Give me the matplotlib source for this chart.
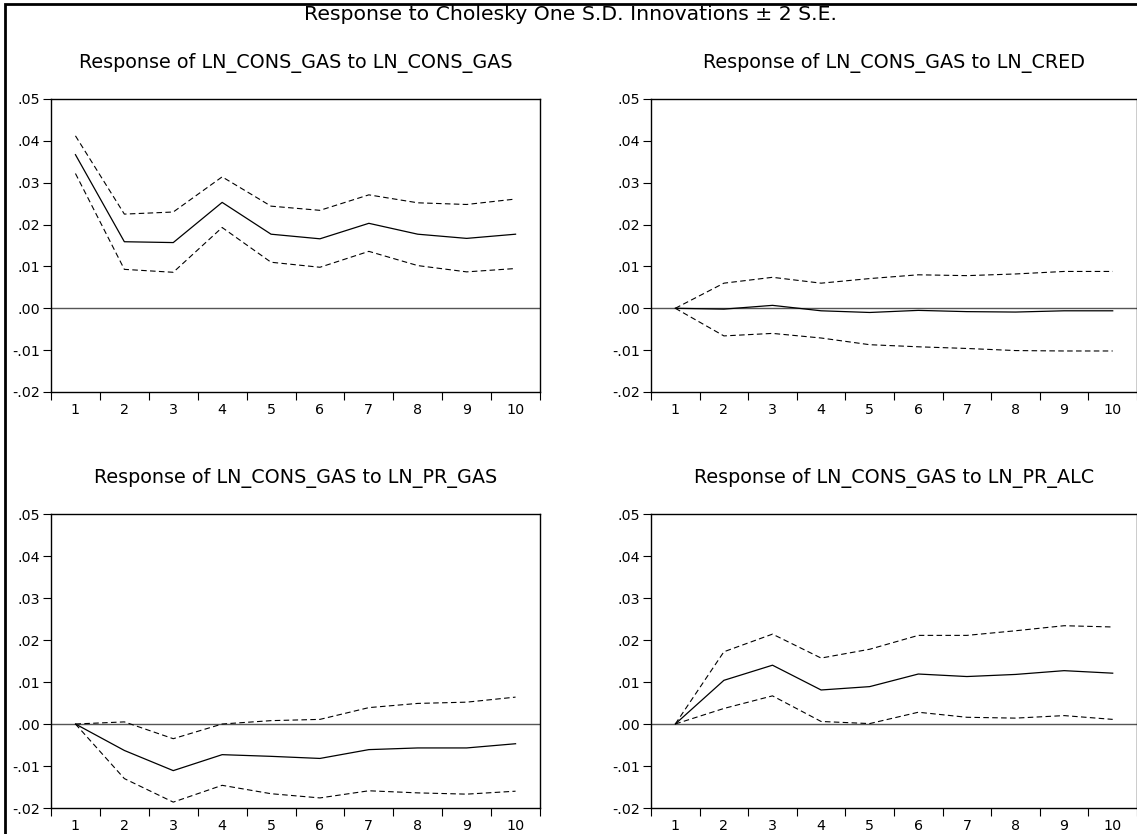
import matplotlib
matplotlib.use("Agg")
import matplotlib.pyplot as plt
from matplotlib.patches import Rectangle
from matplotlib.ticker import FuncFormatter, FixedLocator
import numpy as np

plt.rcParams['font.family'] = ['DejaVu Sans']

periods = [1, 2, 3, 4, 5, 6, 7, 8, 9, 10]

titles = [
    "Response of LN_CONS_GAS to LN_CONS_GAS",
    "Response of LN_CONS_GAS to LN_CRED",
    "Response of LN_CONS_GAS to LN_PR_GAS",
    "Response of LN_CONS_GAS to LN_PR_ALC",
]

# impulse response and +/- 2 S.E. bands
resp_gas = [0.0367, 0.0159, 0.0157, 0.0253, 0.0177, 0.0166, 0.0203, 0.0177, 0.0167, 0.0177]
upper_gas = [0.0412, 0.0225, 0.0230, 0.0314, 0.0244, 0.0234, 0.0271, 0.0252, 0.0248, 0.0261]
lower_gas = [0.0322, 0.0093, 0.0086, 0.0193, 0.0110, 0.0098, 0.0136, 0.0102, 0.0087, 0.0095]

resp_cred = [0.0, -0.0002, 0.0007, -0.0006, -0.0010, -0.0005, -0.0008, -0.0009, -0.0006, -0.0006]
upper_cred = [0.0, 0.0060, 0.0074, 0.0060, 0.0071, 0.0080, 0.0078, 0.0082, 0.0088, 0.0088]
lower_cred = [0.0, -0.0066, -0.0060, -0.0071, -0.0087, -0.0092, -0.0096, -0.0101, -0.0102, -0.0102]

resp_prgas = [0.0, -0.0063, -0.0111, -0.0073, -0.0077, -0.0082, -0.0061, -0.0057, -0.0057, -0.0047]
upper_prgas = [0.0, 0.0005, -0.0035, 0.0000, 0.0008, 0.0011, 0.0039, 0.0049, 0.0052, 0.0064]
lower_prgas = [0.0, -0.0130, -0.0186, -0.0146, -0.0166, -0.0176, -0.0159, -0.0164, -0.0167, -0.0160]

resp_alc = [0.0, 0.0104, 0.0140, 0.0081, 0.0089, 0.0119, 0.0113, 0.0118, 0.0127, 0.0121]
upper_alc = [0.0, 0.0172, 0.0214, 0.0157, 0.0178, 0.0211, 0.0211, 0.0222, 0.0234, 0.0231]
lower_alc = [0.0, 0.0037, 0.0067, 0.0006, 0.0001, 0.0028, 0.0016, 0.0014, 0.0020, 0.0011]

yticks = [-0.02, -0.01, 0.00, 0.01, 0.02, 0.03, 0.04, 0.05]

W, H = 1137, 834
fig = plt.figure(figsize=(W / 100, H / 100), dpi=100)

# outer frame (right and bottom edges fall outside the picture)
fig.patches.append(Rectangle((5 / W, -0.1), 1.2, 1 - 4 / H + 0.1, transform=fig.transFigure,
                             fill=False, edgecolor='black', linewidth=2))

fig.text(570 / W, 1 - 15 / H, "Response to Cholesky One S.D. Innovations \u00b1 2 S.E.",
         ha='center', va='center', fontsize=14.7)

# axes boxes in pixels: left, right, top, bottom
boxes = [(51, 540, 99, 392), (651, 1137, 99, 392),
         (51, 540, 514, 808), (651, 1137, 514, 808)]
series = [(resp_gas, upper_gas, lower_gas),
          (resp_cred, upper_cred, lower_cred),
          (resp_prgas, upper_prgas, lower_prgas),
          (resp_alc, upper_alc, lower_alc)]

fmt = FuncFormatter(lambda v, p: ("%.2f" % v).replace("0.", ".", 1))

for (l, r, t, b), (resp, up, lo), title in zip(boxes, series, titles):
    ax = fig.add_axes([l / W, 1 - b / H, (r - l) / W, (b - t) / H])
    ax.axhline(0, color='#555555', linewidth=1.0)
    ax.plot(periods, up, color='black', linestyle=(0, (5, 3)), linewidth=0.8)
    ax.plot(periods, lo, color='black', linestyle=(0, (5, 3)), linewidth=0.8)
    ax.plot(periods, resp, color='black', linewidth=0.9)
    ax.set_xlim(0.5, 10.5)
    ax.set_ylim(-0.02, 0.05)
    ax.set_yticks(yticks)
    ax.yaxis.set_major_formatter(fmt)
    ax.set_xticks(periods)
    ax.set_xticklabels([str(p) for p in periods])
    ax.xaxis.set_minor_locator(FixedLocator(np.arange(0.5, 11, 1)))
    ax.tick_params(axis='x', which='major', length=0, pad=8, labelsize=10.3)
    ax.tick_params(axis='x', which='minor', length=6, width=0.8, direction='out')
    ax.tick_params(axis='y', length=6, width=0.8, direction='out', pad=2, labelsize=10.3)
    for s in ax.spines.values():
        s.set_linewidth(1.0)
    fig.text((l + r) / 2 / W, 1 - (t - 36) / H, title, ha='center', va='center', fontsize=13.8)

fig.savefig("out.png", dpi=100)
